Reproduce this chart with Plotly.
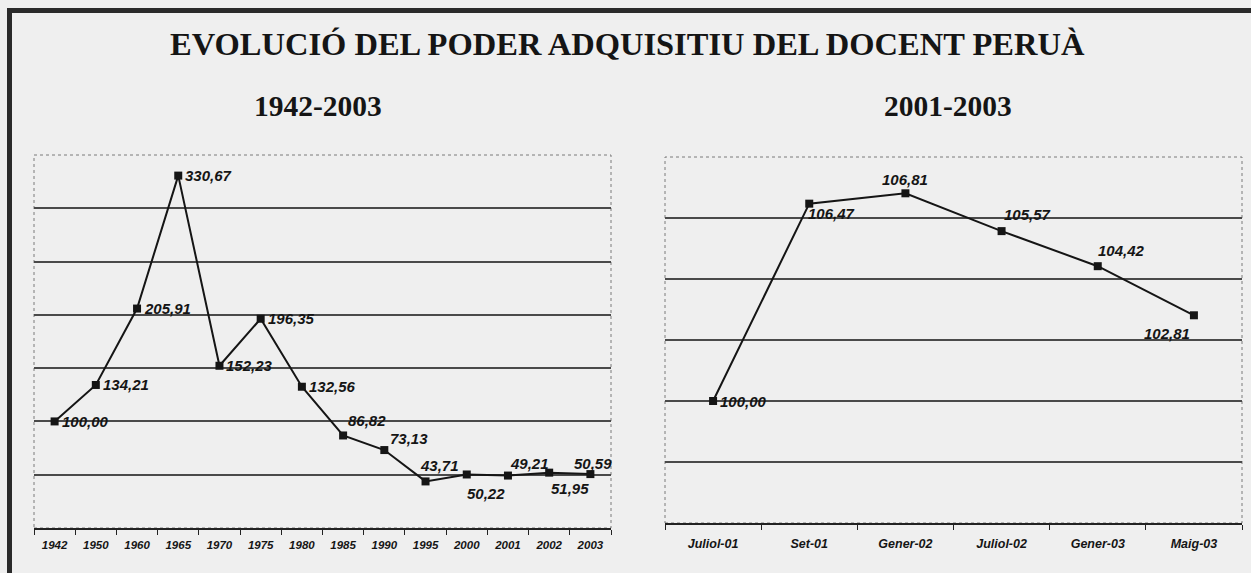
import plotly.graph_objects as go

# ---------------- data ----------------
years = ["1942", "1950", "1960", "1965", "1970", "1975", "1980",
         "1985", "1990", "1995", "2000", "2001", "2002", "2003"]
values_long = [100.00, 134.21, 205.91, 330.67, 152.23, 196.35, 132.56,
               86.82, 73.13, 43.71, 50.22, 49.21, 51.95, 50.59]

months = ["Juliol-01", "Set-01", "Gener-02", "Juliol-02", "Gener-03", "Maig-03"]
values_short = [100.00, 106.47, 106.81, 105.57, 104.42, 102.81]

title_text = "EVOLUCIÓ DEL PODER ADQUISITIU DEL DOCENT PERUÀ"
subtitle_left = "1942-2003"
subtitle_right = "2001-2003"

# ---------------- styling ----------------
W, H = 1251, 573
BG = "#efefef"
INK = "#151515"
GRID = "#4a4a4a"
LABEL_FONT = dict(family="Liberation Sans, Arial, sans-serif", size=15, color=INK)
TITLE_FONT = "Liberation Serif, Times New Roman, serif"

# label placement (xanchor, xshift, yshift) per point
long_pos = [("left", 5, 0), ("left", 5, 0), ("left", 5, 0), ("left", 5, 0),
            ("left", 5, 0), ("left", 5, 0), ("left", 5, 0),
            ("left", 3, 15), ("left", 4, 12), ("center", 14, 16),
            ("center", 19, -19), ("center", 22, 12), ("center", 21, -16),
            ("center", 3, 11)]
short_pos = [("left", 5, 0), ("left", -3, -10), ("center", 0, 14),
             ("left", 0, 17), ("left", -2, 16), ("right", -2, -18)]


def fmt(v):
    return f"{v:.2f}".replace(".", ",")


fig = go.Figure()

fig.add_trace(go.Scatter(
    x=years, y=values_long, mode="lines+markers", xaxis="x", yaxis="y",
    line=dict(color=INK, width=2),
    marker=dict(symbol="square", size=8, color=INK),
    showlegend=False, hoverinfo="x+y"))

fig.add_trace(go.Scatter(
    x=months, y=values_short, mode="lines+markers", xaxis="x2", yaxis="y2",
    line=dict(color=INK, width=2),
    marker=dict(symbol="square", size=8, color=INK),
    showlegend=False, hoverinfo="x+y"))

annotations = []
for i, (val, (xa, xs, ys)) in enumerate(zip(values_long, long_pos)):
    annotations.append(dict(
        x=i, y=val, xref="x", yref="y", text=f"<b><i>{fmt(val)}</i></b>",
        showarrow=False, xanchor=xa, yanchor="middle", xshift=xs, yshift=ys,
        font=LABEL_FONT))
for i, (val, (xa, xs, ys)) in enumerate(zip(values_short, short_pos)):
    annotations.append(dict(
        x=i, y=val, xref="x2", yref="y2", text=f"<b><i>{fmt(val)}</i></b>",
        showarrow=False, xanchor=xa, yanchor="middle", xshift=xs, yshift=ys,
        font=LABEL_FONT))

annotations.append(dict(
    x=628 / W, y=1 - 44 / H, xref="paper", yref="paper",
    text=f"<b>{title_text}</b>", showarrow=False,
    xanchor="center", yanchor="middle",
    font=dict(family=TITLE_FONT, size=32.5, color=INK)))
annotations.append(dict(
    x=318 / W, y=1 - 106 / H, xref="paper", yref="paper",
    text=f"<b>{subtitle_left}</b>", showarrow=False,
    xanchor="center", yanchor="middle",
    font=dict(family=TITLE_FONT, size=29.5, color=INK)))
annotations.append(dict(
    x=948 / W, y=1 - 106 / H, xref="paper", yref="paper",
    text=f"<b>{subtitle_right}</b>", showarrow=False,
    xanchor="center", yanchor="middle",
    font=dict(family=TITLE_FONT, size=29.5, color=INK)))

shapes = [
    # dotted plot-area frames
    dict(type="rect", xref="x domain", yref="y domain", x0=0, x1=1, y0=0, y1=1,
         line=dict(color="#7a7a7a", width=1, dash="dot"), layer="below"),
    dict(type="rect", xref="x2 domain", yref="y2 domain", x0=0, x1=1, y0=0, y1=1,
         line=dict(color="#7a7a7a", width=1, dash="dot"), layer="below"),
    # page frame (thick top and left rules)
    dict(type="line", xref="paper", yref="paper", x0=7 / W, x1=1.0,
         y0=1 - 10.5 / H, y1=1 - 10.5 / H, line=dict(color="#2a2a2a", width=5)),
    dict(type="line", xref="paper", yref="paper", x0=9.5 / W, x1=9.5 / W,
         y0=0, y1=1 - 8 / H, line=dict(color="#2a2a2a", width=5)),
]

tick_font_l = dict(family="Liberation Sans, Arial, sans-serif", size=11.5, color=INK)
tick_font_r = dict(family="Liberation Sans, Arial, sans-serif", size=12.5, color=INK)

fig.update_layout(
    width=W, height=H,
    paper_bgcolor=BG, plot_bgcolor=BG,
    margin=dict(l=0, r=0, t=0, b=0),
    showlegend=False,
    annotations=annotations,
    shapes=shapes,
    xaxis=dict(domain=[34 / W, 611 / W], anchor="y", type="category",
               range=[-0.5, len(years) - 0.5],
               showgrid=False, zeroline=False, showline=True,
               linecolor="#222222", linewidth=1.5,
               ticks="outside", tickson="boundaries", ticklen=5,
               tickcolor="#222222", tickwidth=1.2,
               tickfont=tick_font_l, ticklabelstandoff=5,
               tickmode="array", tickvals=years,
               ticktext=[f"<b><i>{y}</i></b>" for y in years]),
    yaxis=dict(domain=[1 - 528 / H, 1 - 155 / H], anchor="x",
               range=[0, 350], showticklabels=False, ticks="",
               tickmode="array", tickvals=[50, 100, 150, 200, 250, 300],
               showgrid=True, gridcolor=GRID, gridwidth=1.5,
               zeroline=False, showline=False),
    xaxis2=dict(domain=[665 / W, 1242 / W], anchor="y2", type="category",
                range=[-0.5, len(months) - 0.5],
                showgrid=False, zeroline=False, showline=True,
                linecolor="#222222", linewidth=1.5,
                ticks="outside", tickson="boundaries", ticklen=5,
                tickcolor="#222222", tickwidth=1.2,
                tickfont=tick_font_r, ticklabelstandoff=8,
                tickmode="array", tickvals=months,
                ticktext=[f"<b><i>{m}</i></b>" for m in months]),
    yaxis2=dict(domain=[1 - 523 / H, 1 - 157 / H], anchor="x2",
                range=[96, 108], showticklabels=False, ticks="",
                tickmode="array", tickvals=[98, 100, 102, 104, 106],
                showgrid=True, gridcolor=GRID, gridwidth=1.5,
                zeroline=False, showline=False),
)

fig.write_html(
    "out.html",
    config={"displayModeBar": False},
    post_script=("document.body.style.margin='0';"
                 "document.body.style.overflow='hidden';"
                 "document.body.style.background='%s';" % BG),
)
